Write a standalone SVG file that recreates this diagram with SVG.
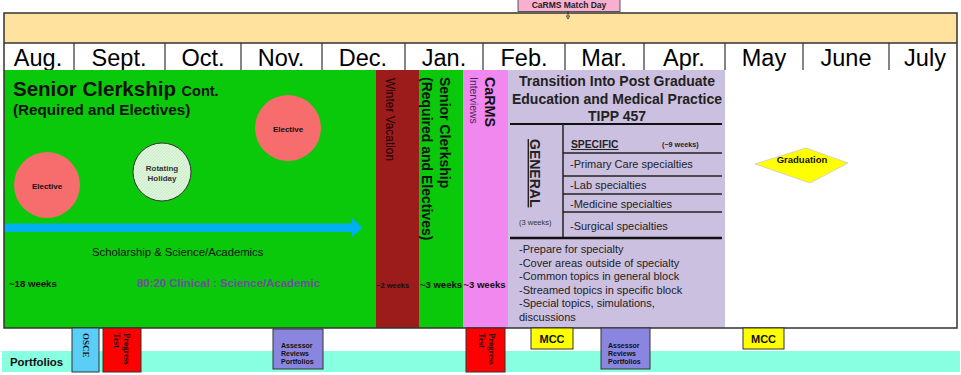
<svg xmlns="http://www.w3.org/2000/svg" width="961" height="375" viewBox="0 0 961 375">
<defs>
<style>
text{font-family:"Liberation Sans",Arial,sans-serif;fill:#111}
.b{font-weight:bold}
.m{font-size:23.5px;text-anchor:middle;fill:#000}
.c{text-anchor:middle}
.ser{font-family:"Liberation Serif","Times New Roman",serif;font-weight:bold;fill:#111}
.box{stroke:#333;stroke-width:1}
.ln{stroke:#222;stroke-width:1.5;fill:none}
.div{stroke:#333;stroke-width:1.2}
.ast{font-size:7px;font-weight:bold}
.lst{font-size:11px;fill:#222}
</style>
<pattern id="hatch" width="3" height="3" patternUnits="userSpaceOnUse">
<rect width="3" height="3" fill="#DDF5DA"/>
<path d="M0,3 L3,0" stroke="#BFE3BB" stroke-width="0.6"/>
</pattern>
<marker id="ah" viewBox="0 0 6 6" refX="3" refY="3" markerWidth="5" markerHeight="5" orient="auto">
<path d="M0,0 L6,3 L0,6" fill="none" stroke="#222" stroke-width="1"/>
</marker>
</defs>
<rect width="961" height="375" fill="#fff"/>

<g id="portfolios-band">
<rect x="2" y="351" width="958" height="21" fill="#88FFE0"/>
<text x="10" y="365.5" class="b" font-size="11.4px" fill="#222">Portfolios</text>
</g>

<g id="timeline-header">
<rect x="4" y="13" width="953" height="30" fill="#FEE29E"/>
<rect x="4" y="43" width="953" height="27" fill="#fff"/>
<g class="div">
<line x1="74" y1="43" x2="74" y2="70"/><line x1="165" y1="43" x2="165" y2="70"/>
<line x1="241" y1="43" x2="241" y2="70"/><line x1="322" y1="43" x2="322" y2="70"/>
<line x1="405" y1="43" x2="405" y2="70"/><line x1="483" y1="43" x2="483" y2="70"/>
<line x1="565" y1="43" x2="565" y2="70"/><line x1="644" y1="43" x2="644" y2="70"/>
<line x1="725" y1="43" x2="725" y2="70"/><line x1="803" y1="43" x2="803" y2="70"/>
<line x1="889" y1="43" x2="889" y2="70"/>
</g>
<text class="m" x="38" y="66">Aug.</text>
<text class="m" x="119" y="66">Sept.</text>
<text class="m" x="203" y="66">Oct.</text>
<text class="m" x="281" y="66">Nov.</text>
<text class="m" x="363" y="66">Dec.</text>
<text class="m" x="444" y="66">Jan.</text>
<text class="m" x="524" y="66">Feb.</text>
<text class="m" x="604" y="66">Mar.</text>
<text class="m" x="684" y="66">Apr.</text>
<text class="m" x="764" y="66">May</text>
<text class="m" x="846" y="66">June</text>
<text class="m" x="925" y="66">July</text>
</g>

<g id="senior-clerkship-cont">
<rect x="4" y="70" width="372" height="258" fill="#0AC80A"/>
<text x="13" y="96" class="b" font-size="20.5px">Senior Clerkship <tspan font-size="14.5px">Cont.</tspan></text>
<text x="13" y="115" class="b" font-size="15.2px">(Required and Electives)</text>
<text x="92" y="256" font-size="11.3px" fill="#1a2a1a">Scholarship &amp; Science/Academics</text>
<text x="9" y="287" class="b" font-size="9.6px">~18 weeks</text>
<text x="137" y="287" class="b" font-size="11.4px" style="fill:#6E4E9E">80:20 Clinical : Science/Academic</text>
</g>

<g id="elective-1">
<circle cx="47" cy="185" r="33" fill="#F76C6C"/>
<text x="47" y="188.5" class="b c" font-size="8px">Elective</text>
</g>
<g id="rotating-holiday">
<circle cx="162" cy="172" r="29" fill="url(#hatch)" stroke="#333" stroke-width="1"/>
<text x="162" y="171" class="b c" font-size="8px" style="fill:#333">Rotating</text>
<text x="162" y="181" class="b c" font-size="8px" style="fill:#333">Holiday</text>
</g>
<g id="elective-2">
<circle cx="288" cy="128" r="33" fill="#F76C6C"/>
<text x="288" y="131.5" class="b c" font-size="8px">Elective</text>
</g>

<g id="scholarship-arrow">
<path d="M4,223.5 H352 V218 L362.5,227.8 L352,237 V232 H4 Z" fill="#00B0F0"/>
</g>

<g id="winter-vacation">
<rect x="376" y="70" width="43" height="258" fill="#9C1C1C"/>
<text transform="translate(386,78) rotate(90)" font-size="11.9px" style="fill:#1a0000">Winter Vacation</text>
<text x="376" y="288" class="b" font-size="7.5px">~2 weeks</text>
</g>

<g id="senior-clerkship">
<rect x="419" y="70" width="44" height="258" fill="#0AC80A"/>
<text transform="translate(440,77) rotate(90)" class="b" font-size="14px">Senior Clerkship</text>
<text transform="translate(422,77) rotate(90)" class="b" font-size="14px">(Required and Electives)</text>
<text x="420" y="288" class="b" font-size="9.5px">~3 weeks</text>
</g>

<g id="carms">
<rect x="463" y="70" width="45" height="258" fill="#F088F0"/>
<text transform="translate(485,77) rotate(90)" class="b" font-size="14.3px">CaRMS</text>
<text transform="translate(470,77) rotate(90)" font-size="10.4px" style="fill:#4a2a5a">Interviews</text>
<text x="463.5" y="288" class="b" font-size="9.5px">~3 weeks</text>
</g>

<g id="tipp">
<rect x="508" y="70" width="217" height="258" fill="#CCC0E0"/>
<text x="617" y="86" class="b c" font-size="14px" style="fill:#222">Transition Into Post Graduate</text>
<text x="617" y="104" class="b c" font-size="14px" style="fill:#222">Education and Medical Practice</text>
<text x="617" y="121" class="b c" font-size="14px" style="fill:#222">TIPP 457</text>
<line x1="510" y1="124" x2="722" y2="124" stroke="#111" stroke-width="2"/>
<line x1="563" y1="124" x2="563" y2="238" class="ln"/>
<line x1="563" y1="153" x2="722" y2="153" class="ln"/>
<line x1="563" y1="176" x2="722" y2="176" class="ln"/>
<line x1="563" y1="194" x2="722" y2="194" class="ln"/>
<line x1="563" y1="212" x2="722" y2="212" class="ln"/>
<line x1="510" y1="238" x2="722" y2="238" stroke="#111" stroke-width="2.5"/>
<text transform="translate(530,139) rotate(90)" class="b" font-size="14px" text-decoration="underline" style="fill:#222">GENERAL</text>
<text x="519" y="225" font-size="7.5px" style="fill:#333">(3 weeks)</text>
<text x="571" y="148" class="b" font-size="10.3px" text-decoration="underline" style="fill:#222">SPECIFIC</text>
<text x="662" y="147" class="b" font-size="7.2px" style="fill:#222">(~9 weeks)</text>
<text x="570" y="168" class="lst">-Primary Care specialties</text>
<text x="570" y="189" class="lst">-Lab specialties</text>
<text x="570" y="208" class="lst">-Medicine specialties</text>
<text x="570" y="229.5" class="lst">-Surgical specialties</text>
<text x="519" y="253" class="lst">-Prepare for specialty</text>
<text x="519" y="266.5" class="lst">-Cover areas outside of specialty</text>
<text x="519" y="280" class="lst">-Common topics in general block</text>
<text x="519" y="293.5" class="lst">-Streamed topics in specific block</text>
<text x="519" y="307" class="lst">-Special topics, simulations,</text>
<text x="519" y="320.5" class="lst">discussions</text>
</g>

<g id="graduation">
<polygon points="755,164 806,148 848,163 810,183" fill="#FFFF00" stroke="#ccc" stroke-width="0.8"/>
<text x="802" y="162.5" class="b c" font-size="9.5px">Graduation</text>
</g>

<g id="frame">
<path d="M4,13 H957 V328 H4 Z" fill="none" stroke="#333" stroke-width="1.5"/>
<line x1="4" y1="43" x2="957" y2="43" stroke="#333" stroke-width="1.5"/>
</g>

<g id="carms-match-day">
<rect x="518" y="-2" width="102" height="13.5" fill="#F9AFCF" stroke="#333" stroke-width="0.8"/>
<text x="569" y="8" class="b c" font-size="8.5px" style="fill:#222">CaRMS Match Day</text>
</g>

<g id="osce">
<rect x="72" y="328" width="27" height="44" fill="#5BCEF7" class="box"/>
<text transform="translate(83,333) rotate(90)" class="ser" font-size="9px">OSCE</text>
</g>
<g id="progress-test-1">
<rect x="103" y="328" width="38" height="44" fill="#FF0000" class="box"/>
<text transform="translate(124,333) rotate(90)" class="ser" font-size="8.6px">Progress</text>
<text transform="translate(114,333) rotate(90)" class="ser" font-size="8.6px">Test</text>
</g>
<g id="assessor-1">
<rect x="273" y="329" width="50" height="40" fill="#8A86E0" class="box"/>
<text x="281" y="347.5" class="ast">Assessor</text>
<text x="281" y="356" class="ast">Reviews</text>
<text x="281" y="364" class="ast">Portfolios</text>
</g>
<g id="progress-test-2">
<rect x="466" y="328" width="39" height="44" fill="#FF0000" class="box"/>
<text transform="translate(489,333) rotate(90)" class="ser" font-size="8.6px">Progress</text>
<text transform="translate(478.5,333) rotate(90)" class="ser" font-size="8.6px">Test</text>
</g>
<g id="mcc-1">
<rect x="531" y="328" width="42" height="21" fill="#FFFF00" class="box"/>
<text x="552" y="342.5" class="b c" font-size="11px">MCC</text>
</g>
<g id="assessor-2">
<rect x="601" y="328" width="49" height="41" fill="#8A86E0" class="box"/>
<text x="608" y="347.5" class="ast">Assessor</text>
<text x="608" y="356" class="ast">Reviews</text>
<text x="608" y="364" class="ast">Portfolios</text>
</g>
<g id="mcc-2">
<rect x="743" y="328" width="41" height="21" fill="#FFFF00" class="box"/>
<text x="763.5" y="342.5" class="b c" font-size="11px">MCC</text>
</g>

<g id="connectors">
<line x1="568" y1="11.5" x2="568" y2="17" stroke="#222" stroke-width="0.9" marker-end="url(#ah)"/>
</g>
</svg>
